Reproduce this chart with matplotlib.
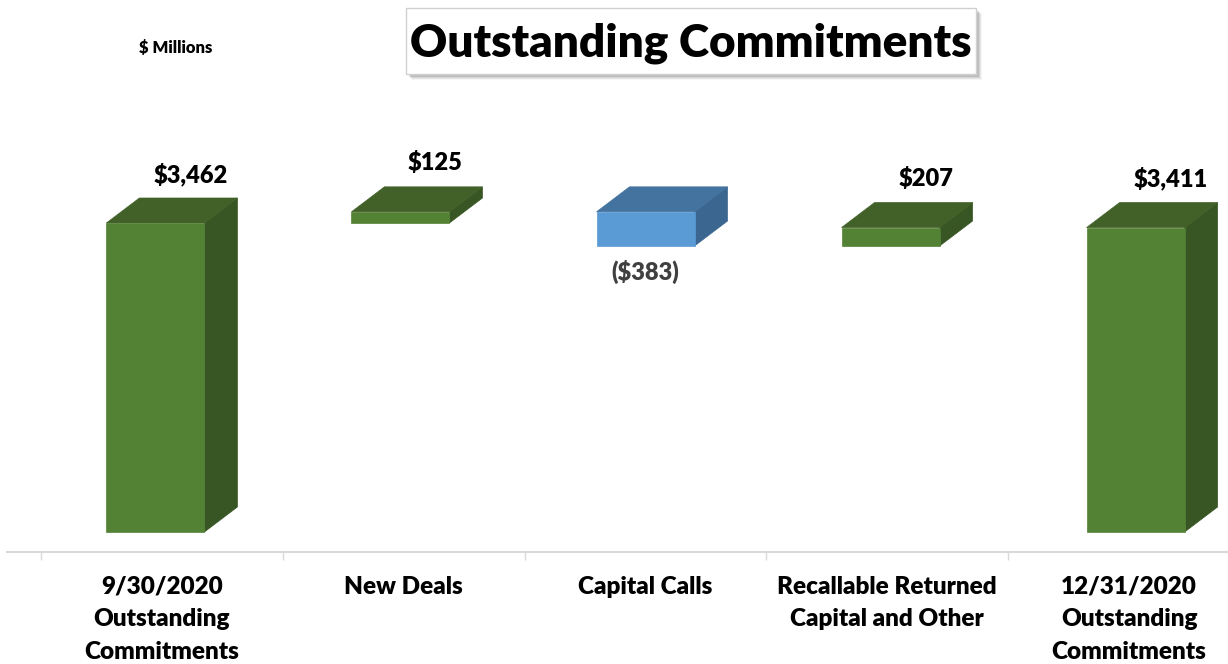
import matplotlib.pyplot as plt
from matplotlib.patches import Polygon, Rectangle

# waterfall data ($ millions)
categories = ["9/30/2020\nOutstanding\nCommitments", "New Deals", "Capital Calls",
              "Recallable Returned\nCapital and Other", "12/31/2020\nOutstanding\nCommitments"]
start_value = 3462
changes = [125, -383, 207]

plt.rcParams['font.family'] = ['Lato', 'DejaVu Sans']
WEIGHT = 'heavy'

W, H = 1228, 664
fig = plt.figure(figsize=(W / 100, H / 100), dpi=100)

# axes: bottom spine is the floor line at y=552 px from top
ax_left, ax_bottom, ax_top = 7, H - 552, 0
ax = fig.add_axes([ax_left / W, ax_bottom / H, 1 - ax_left / W, (H - ax_bottom - ax_top) / H])

cat_w = 241.75                      # px per category
px_per_val = 309 / start_value      # px per $1M
ax.set_xlim((ax_left - 162) / cat_w, (W - 162) / cat_w)
ax.set_ylim(-20 / px_per_val, 532 / px_per_val)

# bar geometry (3d look)
front_w = 98 / cat_w
dx = 33 / cat_w
dy = 25 / px_per_val

green = ("#548235", "#416128", "#375623")   # front, top, side
blue = ("#5b9bd5", "#44739f", "#3b6690")

end_value = start_value + sum(changes)
bottoms, tops, colors, texts, neg = [], [], [], [], []
bottoms.append(0); tops.append(start_value); colors.append(green)
texts.append(f"${start_value:,}"); neg.append(False)
level = start_value
for ch in changes:
    if ch >= 0:
        bottoms.append(level); tops.append(level + ch); colors.append(green)
        texts.append(f"${ch:,}"); neg.append(False)
    else:
        bottoms.append(level + ch); tops.append(level); colors.append(blue)
        texts.append(f"(${-ch:,})"); neg.append(True)
    level += ch
bottoms.append(0); tops.append(end_value); colors.append(green)
texts.append(f"${end_value:,}"); neg.append(False)

for i in range(len(categories)):
    shift = (i - 2) * 3.3 / cat_w       # slight perspective shift
    xl = i + shift - front_w / 2
    xr = xl + front_w
    b, t = bottoms[i], tops[i]
    fc, tc, sc = colors[i]
    ax.add_patch(Polygon([(xr, b), (xr + dx, b + dy), (xr + dx, t + dy), (xr, t)],
                         closed=True, facecolor=sc, edgecolor=sc, lw=0.5))
    ax.add_patch(Polygon([(xl, t), (xr, t), (xr + dx, t + dy), (xl + dx, t + dy)],
                         closed=True, facecolor=tc, edgecolor=tc, lw=0.5))
    ax.add_patch(Rectangle((xl, b), front_w, t - b, facecolor=fc, edgecolor=fc, lw=0.5))
    if neg[i]:
        ax.annotate(texts[i], (xl + front_w / 2, b), xytext=(0, -26 * 0.72),
                    textcoords='offset points', ha='center', va='center',
                    fontsize=17, fontweight=WEIGHT, color='#404040')
    else:
        ax.annotate(texts[i], (xl + front_w / 2 + dx + 2 / cat_w, t + dy), xytext=(0, 24 * 0.72),
                    textcoords='offset points', ha='center', va='center',
                    fontsize=17, fontweight=WEIGHT, color='black')

# axis styling
for s in ['top', 'left', 'right']:
    ax.spines[s].set_visible(False)
ax.spines['bottom'].set_color('#d9d9d9')
ax.spines['bottom'].set_linewidth(1.5)
ax.set_yticks([])
ax.set_xticks(range(len(categories)))
ax.set_xticklabels(categories, fontsize=17.5, fontweight=WEIGHT)
ax.set_xticks([i - 0.5 for i in range(len(categories))], minor=True)
ax.tick_params(axis='x', which='major', length=0, pad=17)
ax.tick_params(axis='x', which='minor', length=6, width=1, color='#d9d9d9', direction='out')
for lab in ax.get_xticklabels():
    lab.set_linespacing(1.6)

# title box with shadow
bx0, by0, bx1, by1 = 406, 8, 976, 74
for k, a in [(6, 0.08), (5, 0.12), (4, 0.18), (3, 0.25)]:
    fig.patches.append(Rectangle(((bx0 + k) / W, (H - by1 - k) / H), (bx1 - bx0) / W, (by1 - by0) / H,
                                 transform=fig.transFigure, facecolor='#808080', alpha=a,
                                 edgecolor='none', zorder=1))
fig.patches.append(Rectangle((bx0 / W, (H - by1) / H), (bx1 - bx0) / W, (by1 - by0) / H,
                             transform=fig.transFigure, facecolor='white',
                             edgecolor='#d0d0d0', lw=1, zorder=2))
fig.text((bx0 + bx1) / 2 / W, 1 - 43 / H, "Outstanding Commitments", ha='center', va='center',
         fontsize=33, fontweight=WEIGHT, zorder=3)

fig.text(176 / W, 1 - 48 / H, "$ Millions", ha='center', va='center', fontsize=12, fontweight=WEIGHT)

fig.savefig("out.png", dpi=100)
